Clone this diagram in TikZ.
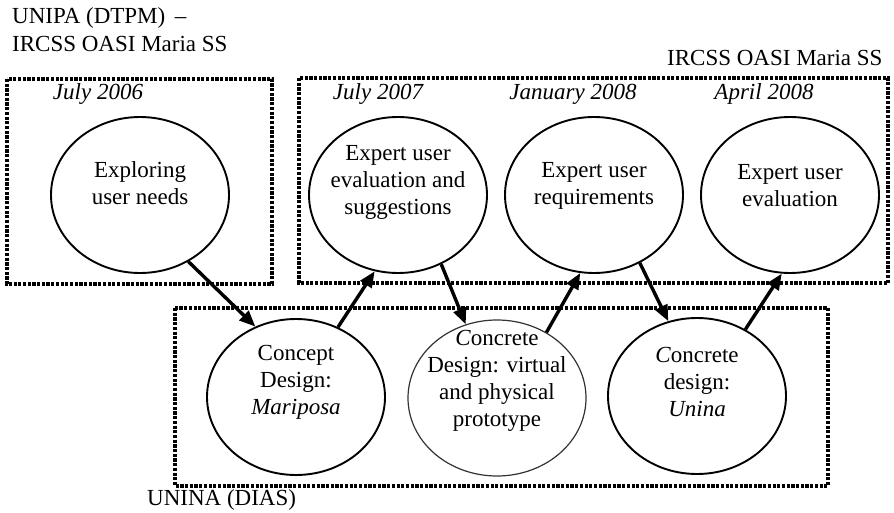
\documentclass[tikz,border=0pt]{standalone}
\usepackage{fontspec}
\setmainfont{Liberation Serif}
\usetikzlibrary{arrows.meta,shapes.geometric}
\begin{document}
\begin{tikzpicture}[x=1pt,y=-1pt,
  every node/.style={font=\fontsize{23}{27}\selectfont},
  group/.style={draw=black,line width=3.2pt,dash pattern=on 3.2pt off 1.5pt},
  phase/.style={draw=black,line width=1.9pt,ellipse,minimum width=178pt,minimum height=156pt,inner sep=0pt},
  phaselight/.style={phase,draw=black!80,line width=1.2pt},
  phasetext/.style={align=center,inner sep=0pt},
  date/.style={font=\fontsize{23}{27}\selectfont\itshape,inner sep=0pt},
  label/.style={anchor=west,inner sep=0pt},
  flow/.style={line width=3.4pt,-{Triangle[length=16pt,width=13pt]}}]
\useasboundingbox (0,0) rectangle (894,513);

% groups of partners
\draw[group] (7,79) rectangle (272,284);
\draw[group] (299,78) rectangle (888,283);
\draw[group] (175,308) rectangle (828,486);

\node[label] (unipa) at (12,18) {UNIPA (DTPM) \,--};
\node[label] (oasi1) at (12,44) {IRCSS OASI Maria SS};
\node[label] (oasi2) at (667,58) {IRCSS OASI Maria SS};
\node[label] (unina) at (147,500) {UNINA (DIAS)};

% dates
\node[date] (d1) at (98,94) {July 2006};
\node[date] (d2) at (378,94) {July 2007};
\node[date] (d3) at (573,94) {January 2008};
\node[date] (d4) at (764,94) {April 2008};

% phases
\node[phase] (explore) at (140,195) {};
\node[phase] (evals) at (398,195) {};
\node[phase] (req) at (594,195) {};
\node[phase] (eval) at (790,195) {};
\node[phase] (concept) at (296,397) {};
\node[phaselight] (virtual) at (497,398) {};
\node[phase] (unina2) at (697,396) {};

\node[phasetext] (t1) at (140,183) {Exploring\\user needs};
\node[phasetext] (t2) at (398,182) {Expert user\\evaluation and\\suggestions};
\node[phasetext] (t3) at (594,186) {Expert user\\requirements};
\node[phasetext] (t4) at (790,186) {Expert user\\evaluation};
\node[phasetext] (t5) at (296,382) {Concept\\Design:\\\textit{Mariposa}};
\node[phasetext] (t6) at (497,381) {\textit{C}oncrete\\Design: virtual\\and physical\\prototype};
\node[phasetext] (t7) at (697,382) {\textit{C}oncrete\\design:\\\textit{Unina}};

% flow between phases
\draw[flow] (explore.-54) -- (concept.120);
\draw[flow] (concept.59) -- (evals.-107);
\draw[flow] (evals.-58) -- (virtual.113);
\draw[flow] (virtual.53) -- (req.-100);
\draw[flow] (req.-56) -- (unina2.111);
\draw[flow] (unina2.54) -- (eval.-96);
\end{tikzpicture}
\end{document}
